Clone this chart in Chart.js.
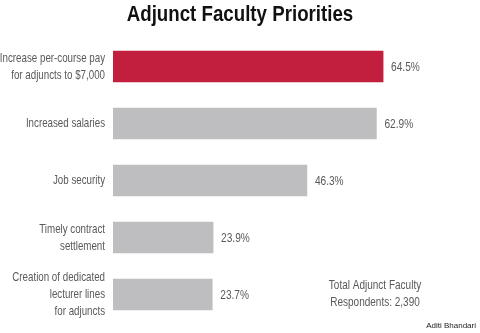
<!DOCTYPE html>
<html>
<head>
<meta charset="utf-8">
<script src="https://cdn.jsdelivr.net/npm/chart.js@4/dist/chart.umd.min.js"></script>
<style>
  html, body { margin: 0; padding: 0; background: #fff; }
  #wrap { width: 480px; height: 333px; position: relative; }
</style>
</head>
<body>
<div id="wrap"><canvas id="chart"></canvas></div>
<script>
const categories = [
    ['Increase per-course pay', 'for adjuncts to $7,000'],
    ['Increased salaries'],
    ['Job security'],
    ['Timely contract', 'settlement'],
    ['Creation of dedicated', 'lecturer lines', 'for adjuncts']
];
const shares = [64.5, 62.9, 46.3, 23.9, 23.7];
const barColors = ['#c21e3d', '#bebec0', '#bebec0', '#bebec0', '#bebec0'];
const titleText = 'Adjunct Faculty Priorities';
const noteLines = ['Total Adjunct Faculty', 'Respondents: 2,390'];
const credit = 'Aditi Bhandari';

const sans = '"Liberation Sans", Arial, sans-serif';
const textGray = '#58595b';

// no condensed face is installed, so squeeze the text horizontally
function squeezed(ctx, text, x, y, align, sx) {
    ctx.save();
    ctx.translate(x, y);
    ctx.scale(sx, 1);
    ctx.textAlign = align;
    ctx.fillText(text, 0, 0);
    ctx.restore();
}

const textPlugin = {
    id: 'texts',
    afterDatasetsDraw(chart) {
        const ctx = chart.ctx;
        const meta = chart.getDatasetMeta(0);
        const yScale = chart.scales.y;
        ctx.save();
        ctx.textBaseline = 'middle';

        // title
        ctx.fillStyle = '#111';
        ctx.font = 'bold 22px ' + sans;
        squeezed(ctx, titleText, 240, 15, 'center', 0.85);

        // category labels
        ctx.font = '13px ' + sans;
        ctx.fillStyle = textGray;
        categories.forEach((lines, i) => {
            const cy = yScale.getPixelForValue(i);
            const lh = 17;
            const top = cy - (lines.length - 1) * lh / 2;
            lines.forEach((ln, j) => squeezed(ctx, ln, 105, top + j * lh, 'right', 0.75));
        });

        // values
        meta.data.forEach((bar, i) => {
            squeezed(ctx, shares[i].toFixed(1) + '%', bar.x + 8, bar.y + 1, 'left', 0.78);
        });

        // note
        squeezed(ctx, noteLines[0], 375, 285, 'center', 0.77);
        squeezed(ctx, noteLines[1], 375, 302, 'center', 0.77);

        ctx.font = '8px ' + sans;
        ctx.fillStyle = '#222';
        ctx.textAlign = 'right';
        ctx.fillText(credit, 476, 326);
        ctx.restore();
    }
};

new Chart(document.getElementById('chart').getContext('2d'), {
    type: 'bar',
    data: {
        labels: categories.map(c => c.join(' ')),
        datasets: [{
            data: shares,
            backgroundColor: barColors,
            borderWidth: 0,
            barThickness: 31
        }]
    },
    options: {
        indexAxis: 'y',
        responsive: true,
        maintainAspectRatio: false,
        animation: false,
        layout: { padding: { left: 0, right: 32, top: 38, bottom: 10 } },
        plugins: {
            legend: { display: false },
            tooltip: { enabled: false },
            title: { display: false }
        },
        scales: {
            x: { display: false, min: 0, max: 80 },
            y: {
                grid: { display: false },
                border: { display: false },
                ticks: { display: false },
                afterFit(scale) { scale.width = 113; }
            }
        }
    },
    plugins: [textPlugin]
});
</script>
</body>
</html>
